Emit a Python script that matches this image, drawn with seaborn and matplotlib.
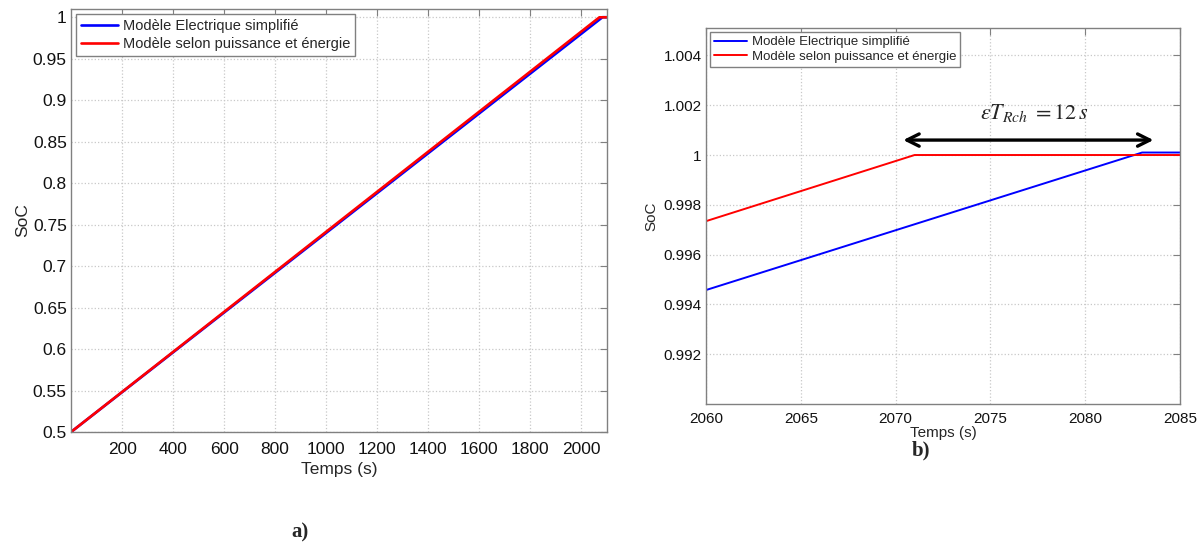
"""
SoC comparison: simplified electric model vs power/energy model
Panel a) full charge, panel b) zoom on end of charge
"""

import numpy as np
import pandas as pd
import matplotlib
matplotlib.use('Agg')
import matplotlib.pyplot as plt
import seaborn as sns

# ─── Data ─────────────────────────────────────────────────────────────────────
LABEL_ELEC = "Modèle Electrique simplifié"
LABEL_PE = "Modèle selon puissance et énergie"

t_elec = [0, 2083, 2100]
soc_elec = [0.5, 1.0001, 1.0001]

t_pe = [0, 2071, 2100]
soc_pe = [0.5, 1.0, 1.0]

yticks_a = [0.5, 0.55, 0.6, 0.65, 0.7, 0.75, 0.8, 0.85, 0.9, 0.95, 1.0]
ytick_labels_a = ["0.5", "0.55", "0.6", "0.65", "0.7", "0.75", "0.8", "0.85", "0.9", "0.95", "1"]
xticks_a = [200, 400, 600, 800, 1000, 1200, 1400, 1600, 1800, 2000]

yticks_b = [0.992, 0.994, 0.996, 0.998, 1.0, 1.002, 1.004]
ytick_labels_b = ["0.992", "0.994", "0.996", "0.998", "1", "1.002", "1.004"]
xticks_b = [2060, 2065, 2070, 2075, 2080, 2085]

arrow_start, arrow_end, arrow_y = 2070.4, 2083.6, 1.0006
annot_text = r'$\varepsilon T_{Rch}\;= 12\,s$'

BLUE = '#0000ff'
RED = '#ff0000'
GRID = '#c8c8c8'
SPINE = '#808080'

# ─── Style ────────────────────────────────────────────────────────────────────
sns.set_style("white")
plt.rcParams.update({
    'font.family': ['Liberation Sans', 'DejaVu Sans'],
    'xtick.direction': 'in',
    'ytick.direction': 'in',
    'xtick.top': True,
    'ytick.right': True,
    'xtick.color': SPINE,
    'ytick.color': SPINE,
    'xtick.labelcolor': '#111111',
    'ytick.labelcolor': '#111111',
    'axes.edgecolor': SPINE,
    'axes.linewidth': 1.0,
})

df_elec = pd.DataFrame({"t": t_elec, "soc": soc_elec})
df_pe = pd.DataFrame({"t": t_pe, "soc": soc_pe})

fig = plt.figure(figsize=(12.04, 5.46), dpi=100)
ax_a = fig.add_axes([0.059, 0.2088, 0.445, 0.7747])
ax_b = fig.add_axes([0.5864, 0.26, 0.3937, 0.6887])


def style_axes(ax, xticks, yticks, ylabels, fs, xpad):
    ax.set_xticks(xticks)
    ax.set_yticks(yticks)
    ax.set_yticklabels(ylabels)
    ax.tick_params(labelsize=fs, length=5, width=0.8, pad=3)
    ax.tick_params(axis='x', pad=xpad)
    ax.grid(True, linestyle=':', color=GRID, linewidth=0.9)
    for sp in ax.spines.values():
        sp.set_color(SPINE)
        sp.set_visible(True)


# ─── Panel a ──────────────────────────────────────────────────────────────────
sns.lineplot(data=df_elec, x="t", y="soc", color=BLUE, lw=1.9, label=LABEL_ELEC, ax=ax_a)
sns.lineplot(data=df_pe, x="t", y="soc", color=RED, lw=1.9, label=LABEL_PE, ax=ax_a)
ax_a.set_xlim(0, 2100)
ax_a.set_ylim(0.5, 1.01)
style_axes(ax_a, xticks_a, yticks_a, ytick_labels_a, 12.5, 7.5)
ax_a.set_xlabel("Temps (s)", fontsize=12.5, labelpad=3)
ax_a.set_ylabel("SoC", fontsize=12.5, labelpad=2)
ax_a.legend(loc='upper left', fontsize=10.5, fancybox=False, framealpha=1,
            edgecolor=SPINE, borderaxespad=0.35, handlelength=2.5,
            borderpad=0.35, labelspacing=0.25, handletextpad=0.35)

# ─── Panel b ──────────────────────────────────────────────────────────────────
sns.lineplot(data=df_elec, x="t", y="soc", color=BLUE, lw=1.4, label=LABEL_ELEC, ax=ax_b)
sns.lineplot(data=df_pe, x="t", y="soc", color=RED, lw=1.4, label=LABEL_PE, ax=ax_b)
ax_b.set_xlim(2060, 2085)
ax_b.set_ylim(0.990, 1.0051)
style_axes(ax_b, xticks_b, yticks_b, ytick_labels_b, 11, 6)
ax_b.set_xlabel("Temps (s)", fontsize=11, labelpad=0)
ax_b.set_ylabel("SoC", fontsize=11, labelpad=4)
ax_b.legend(loc='upper left', fontsize=9.5, fancybox=False, framealpha=1,
            edgecolor=SPINE, borderaxespad=0.3, handlelength=2.5,
            borderpad=0.3, labelspacing=0.2, handletextpad=0.35)

ax_b.annotate('', xy=(arrow_start, arrow_y), xytext=(arrow_end, arrow_y),
              arrowprops=dict(arrowstyle='<->', lw=2.4, color='black',
                              mutation_scale=22, shrinkA=0, shrinkB=0))
ax_b.text((arrow_start + arrow_end) / 2 + 0.3, 1.00168, annot_text,
          fontsize=16, ha='center', va='center', math_fontfamily='stix')

# ─── Panel captions ───────────────────────────────────────────────────────────
fig.text(0.249, 0.025, "a)", fontsize=15, fontweight='bold',
         family='Liberation Serif', ha='center', va='center')
fig.text(0.765, 0.175, "b)", fontsize=15, fontweight='bold',
         family='Liberation Serif', ha='center', va='center')

fig.savefig("out.png", dpi=100)
